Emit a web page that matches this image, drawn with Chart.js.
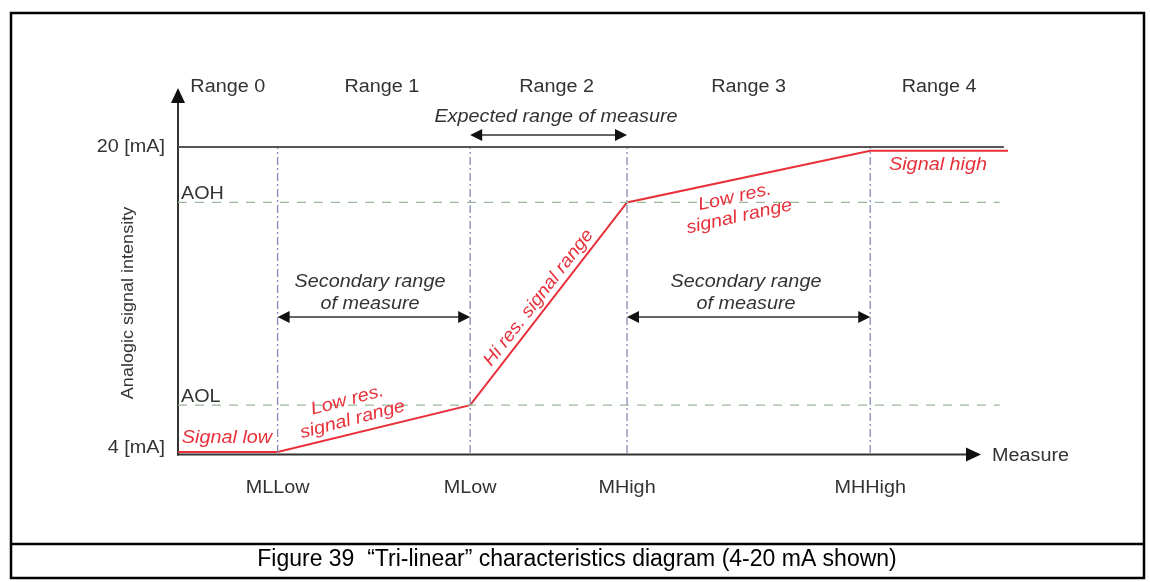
<!DOCTYPE html>
<html>
<head>
<meta charset="utf-8">
<script src="https://cdn.jsdelivr.net/npm/chart.js@4/dist/chart.umd.min.js"></script>
<style>
  html, body { margin: 0; padding: 0; background: #fff; }
  #wrap { width: 1150px; height: 582px; position: relative; }
</style>
</head>
<body>
<div id="wrap"><canvas id="grafico" width="1150" height="582"></canvas></div>
<script>
// measure markers (x, abstract units 0..100) and output levels (mA)
var marcadores = ['MLLow', 'MLow', 'MHigh', 'MHHigh'];
var posMarcadores = [12, 35.2, 54.1, 83.4];
var sinalX = [0, 12, 35.2, 54.1, 83.4, 100];
var sinalY = [4.05, 4.05, 6.5, 17.1, 19.8, 19.8];
var niveis = ['AOL', 'AOH'];
var valNiveis = [6.5, 17.1];
var faixas = ['Range 0', 'Range 1', 'Range 2', 'Range 3', 'Range 4'];
var ticksY = ['4 [mA]', '20 [mA]'];
var valTicksY = [4, 20];

var FONTE = '"Liberation Sans", Arial, sans-serif';
var VERMELHO = '#e8303a';
var TEXTO = '#333333';
var ESTICA = 1.1; // reference text is a bit wider than Arial

function seta(ctx, x, y, dir, len, half) {
    ctx.beginPath();
    if (dir === 'up') {
        ctx.moveTo(x, y); ctx.lineTo(x - half, y + len); ctx.lineTo(x + half, y + len);
    } else if (dir === 'right') {
        ctx.moveTo(x, y); ctx.lineTo(x - len, y - half); ctx.lineTo(x - len, y + half);
    } else {
        ctx.moveTo(x, y); ctx.lineTo(x + len, y - half); ctx.lineTo(x + len, y + half);
    }
    ctx.closePath();
    ctx.fill();
}

function setaDupla(ctx, x1, x2, y) {
    ctx.save();
    ctx.strokeStyle = '#333';
    ctx.fillStyle = '#111';
    ctx.lineWidth = 1.5;
    ctx.beginPath();
    ctx.moveTo(x1 + 8, y); ctx.lineTo(x2 - 8, y);
    ctx.stroke();
    seta(ctx, x1, y, 'left', 12, 6);
    seta(ctx, x2, y, 'right', 12, 6);
    ctx.restore();
}

function texto(ctx, linhas, x, y, o) {
    o = o || {};
    ctx.save();
    ctx.translate(x, y);
    ctx.rotate(o.ang || 0);
    ctx.scale(o.estica || ESTICA, 1);
    ctx.font = o.font || ('18px ' + FONTE);
    ctx.fillStyle = o.cor || TEXTO;
    ctx.textAlign = o.align || 'center';
    ctx.textBaseline = o.base || 'middle';
    if (typeof linhas === 'string') linhas = [linhas];
    var alt = o.alt || 22;
    var y0 = -(linhas.length - 1) * alt / 2;
    linhas.forEach(function(l, i) { ctx.fillText(l, 0, y0 + i * alt); });
    ctx.restore();
}

var desenhoExtra = {
    id: 'desenhoExtra',
    beforeDatasetsDraw: function(chart) {
        var ctx = chart.ctx;
        var sx = chart.scales.x, sy = chart.scales.y;
        var x0 = sx.getPixelForValue(0);
        var yb = sy.getPixelForValue(4) + 1.5;
        ctx.save();
        ctx.strokeStyle = '#333';
        ctx.fillStyle = '#111';
        ctx.lineWidth = 2;
        // y axis
        ctx.beginPath();
        ctx.moveTo(x0, yb + 1); ctx.lineTo(x0, 100);
        ctx.stroke();
        seta(ctx, x0, 88, 'up', 15, 7);
        // x axis
        ctx.beginPath();
        ctx.moveTo(x0 - 1, yb); ctx.lineTo(968, yb);
        ctx.stroke();
        seta(ctx, 981, yb, 'right', 15, 7);
        ctx.restore();
    },
    afterDatasetsDraw: function(chart) {
        var ctx = chart.ctx;
        var sx = chart.scales.x, sy = chart.scales.y;
        var x0 = sx.getPixelForValue(0);
        var px = posMarcadores.map(function(v) { return sx.getPixelForValue(v); });

        ctx.save();
        // frame + caption
        ctx.strokeStyle = '#000';
        ctx.lineWidth = 2.5;
        ctx.strokeRect(11, 13, 1133, 565);
        ctx.beginPath();
        ctx.moveTo(11, 544); ctx.lineTo(1144, 544);
        ctx.stroke();
        ctx.restore();
        texto(ctx, 'Figure 39  \u201cTri-linear\u201d characteristics diagram (4-20 mA shown)', 577, 560,
            { font: '23px ' + FONTE, cor: '#000', estica: 1 });

        // range labels
        var limites = [x0].concat(px).concat([sx.getPixelForValue(100)]);
        faixas.forEach(function(f, i) {
            var c = (limites[i] + limites[i + 1]) / 2;
            if (i === 1 || i === 2) c += 8;
            texto(ctx, f, c, 87);
        });

        // x marker labels
        marcadores.forEach(function(m, i) { texto(ctx, m, px[i], 488); });
        texto(ctx, 'Measure', 992, 456, { align: 'left' });

        // y labels
        valTicksY.forEach(function(v, i) {
            texto(ctx, ticksY[i], 165, sy.getPixelForValue(v) + (i === 0 ? -5 : 0), { align: 'right' });
        });
        niveis.forEach(function(n, i) {
            texto(ctx, n, x0 + 3, sy.getPixelForValue(valNiveis[i]) + 1, { align: 'left', base: 'bottom' });
        });

        texto(ctx, 'Analogic signal intensity', 128, 303, { ang: -Math.PI / 2, font: '17px ' + FONTE, estica: 1.06 });

        // range arrows
        var it = 'italic 18px ' + FONTE;
        texto(ctx, 'Expected range of measure', 556, 117, { font: it });
        setaDupla(ctx, px[1], px[2], 135);
        texto(ctx, ['Secondary range', 'of measure'], 370, 293, { font: it });
        setaDupla(ctx, px[0], px[1], 317);
        texto(ctx, ['Secondary range', 'of measure'], 746, 293, { font: it });
        setaDupla(ctx, px[2], px[3], 317);

        // red annotations
        var ver = { font: it, cor: VERMELHO, alt: 20 };
        texto(ctx, 'Signal low', 227, 438, ver);
        texto(ctx, 'Signal high', 938, 165, ver);
        texto(ctx, ['Low res.', 'signal range'], 350, 410, Object.assign({ ang: -0.26 }, ver));
        texto(ctx, ['Low res.', 'signal range'], 737, 207, Object.assign({ ang: -0.22 }, ver));
        var yL = sy.getPixelForValue(valNiveis[0]), yH = sy.getPixelForValue(valNiveis[1]);
        var ang = Math.atan2(yH - yL, px[2] - px[1]);
        texto(ctx, 'Hi res. signal range', (px[1] + px[2]) / 2 - 10, (yL + yH) / 2 - 6,
            Object.assign({ ang: ang, estica: 1.08 }, { font: it, cor: VERMELHO }));
    }
};

var conjuntos = [];
conjuntos.push({
    data: [{ x: 0, y: 20 }, { x: 99.5, y: 20 }],
    borderColor: '#555555', borderWidth: 2
});
niveis.forEach(function(n, i) {
    conjuntos.push({
        data: [{ x: 0, y: valNiveis[i] }, { x: 99, y: valNiveis[i] }],
        borderColor: '#9cb89c', borderWidth: 1.2, borderDash: [9, 8]
    });
});
posMarcadores.forEach(function(v) {
    conjuntos.push({
        data: [{ x: v, y: 4 }, { x: v, y: 20 }],
        borderColor: '#8a8ab8', borderWidth: 1.3, borderDash: [8, 3, 2, 3]
    });
});
conjuntos.push({
    data: sinalX.map(function(x, i) { return { x: x, y: sinalY[i] }; }),
    borderColor: VERMELHO, borderWidth: 2
});

new Chart(document.getElementById('grafico'), {
    type: 'scatter',
    data: { datasets: conjuntos.map(function(d) {
        d.showLine = true; d.pointRadius = 0; d.clip = false; d.tension = 0;
        return d;
    }) },
    options: {
        responsive: false,
        animation: false,
        events: [],
        layout: { padding: { left: 178, right: 142, top: 147, bottom: 129 } },
        plugins: { legend: { display: false }, tooltip: { enabled: false } },
        scales: {
            x: { type: 'linear', min: 0, max: 100, display: false },
            y: { type: 'linear', min: 4, max: 20, display: false }
        }
    },
    plugins: [desenhoExtra]
});
</script>
</body>
</html>
